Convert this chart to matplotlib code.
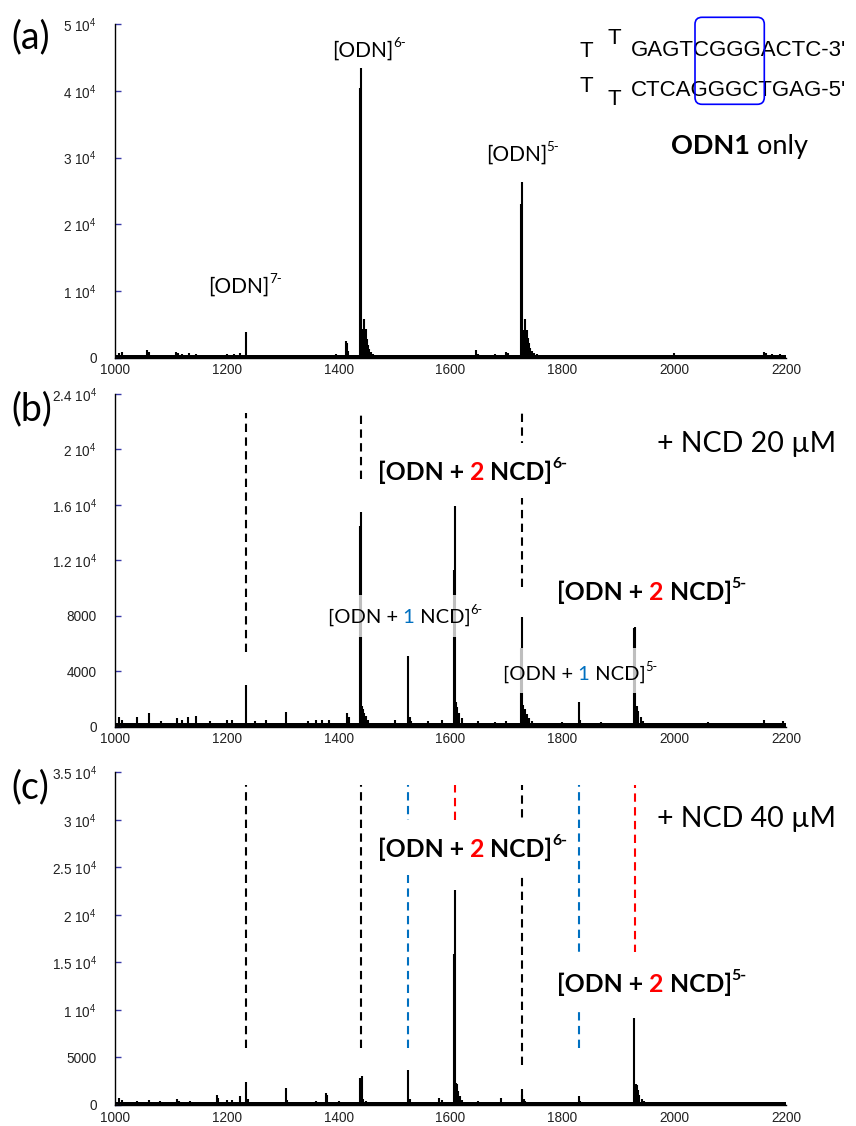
import matplotlib
matplotlib.use('Agg')
import matplotlib.pyplot as plt
from matplotlib.transforms import IdentityTransform
from matplotlib.patches import Rectangle, FancyBboxPatch

W, H, DPI = 856, 1126, 100
plt.rcParams['mathtext.fontset'] = 'custom'
plt.rcParams['mathtext.rm'] = 'Liberation Sans'
plt.rcParams['mathtext.it'] = 'Liberation Sans:italic'
plt.rcParams['mathtext.bf'] = 'Liberation Sans:bold'

LABEL_FONT = ['Lato', 'DejaVu Sans']
TICK_FONT = ['Liberation Sans', 'DejaVu Sans']
SEQ_FONT = ['Liberation Sans', 'DejaVu Sans']
BLUE = '#0070C0'
RED = '#FF0000'

# ------------------------------------------------------------------ data
mz_range = [1000, 2200]
x_ticks = [1000, 1200, 1400, 1600, 1800, 2000, 2200]

# (a) ODN1 only
a_mz = [1008, 1012, 1040, 1058, 1060, 1080, 1109, 1113, 1120, 1132, 1145, 1160,
        1200, 1212, 1224, 1235, 1250, 1270, 1300, 1355, 1370, 1395,
        1413, 1415, 1417, 1438.5, 1440, 1442, 1444, 1446, 1448, 1450, 1452,
        1455, 1458, 1462, 1470, 1520, 1560, 1600, 1645, 1650, 1680, 1700, 1702,
        1726.8, 1728, 1730, 1732, 1734, 1736, 1738, 1740, 1743, 1746, 1750, 1755,
        1800, 1850, 1900, 1950, 2000, 2060, 2100, 2160, 2165, 2175, 2190]
a_int = [700, 800, 400, 1100, 900, 400, 900, 700, 500, 700, 500, 400,
         600, 500, 700, 3850, 450, 400, 350, 450, 400, 500,
         2500, 2200, 1000, 40500, 43400, 3500, 4300, 5800, 4300, 2800, 1900,
         1300, 900, 600, 450, 400, 400, 450, 1100, 600, 500, 900, 700,
         23000, 26400, 3200, 4200, 5800, 4200, 3000, 2200, 1500, 1000, 700, 500,
         450, 400, 400, 400, 650, 400, 400, 900, 700, 600, 500]
a_floor = 450
a_ylim = 50000
a_yticks = [0, 10000, 20000, 30000, 40000, 50000]
a_yticklabels = ['0', '1 10$^4$', '2 10$^4$', '3 10$^4$', '4 10$^4$', '5 10$^4$']

# (b) + NCD 20 uM
b_mz = [1008, 1012, 1040, 1060, 1082, 1110, 1120, 1130, 1145, 1170, 1200, 1210,
        1235, 1250, 1270, 1305, 1345, 1360, 1370, 1383, 1415, 1418,
        1438.5, 1440, 1442, 1444, 1446, 1449, 1453, 1500, 1524, 1527, 1530,
        1560, 1585, 1606.5, 1608, 1610, 1612, 1615, 1620, 1650, 1680, 1700,
        1726.5, 1728, 1730, 1733, 1736, 1740, 1745, 1800, 1829, 1832, 1870,
        1929, 1930.5, 1933, 1936, 1940, 1945, 2000, 2060, 2160, 2195]
b_int = [700, 500, 700, 1000, 400, 600, 500, 700, 800, 400, 500, 450,
         3000, 400, 450, 1050, 400, 500, 500, 450, 1000, 700,
         14500, 15500, 1500, 1300, 1000, 800, 500, 450, 5100, 700, 400,
         400, 500, 11300, 15950, 1800, 1400, 1000, 600, 400, 350, 400,
         5700, 7900, 1600, 1300, 900, 600, 400, 350, 1800, 500, 350,
         7100, 7200, 1500, 1100, 700, 400, 300, 350, 500, 400]
b_floor = 280
b_ylim = 24000
b_yticks = [0, 4000, 8000, 12000, 16000, 20000, 24000]
b_yticklabels = ['0', '4000', '8000', '1.2 10$^4$', '1.6 10$^4$', '2 10$^4$', '2.4 10$^4$']
b_guide_mz = [1235, 1440, 1728]
b_guide_color = ['k', 'k', 'k']
b_guide_top = [22600, 22600, 22600]
b_guide_bottom = [5400, 17850, 10100]

# (c) + NCD 40 uM
c_mz = [1008, 1012, 1040, 1060, 1080, 1110, 1115, 1135, 1160, 1182, 1185, 1200,
        1210, 1224, 1235, 1237, 1270, 1306, 1308, 1340, 1360, 1377, 1379, 1400,
        1439, 1441, 1444, 1448, 1500, 1524, 1527, 1580, 1584,
        1606.8, 1608, 1610, 1612, 1614, 1617, 1620, 1650, 1690,
        1727, 1728.5, 1731, 1734, 1780, 1829, 1831, 1870,
        1929, 1931, 1933, 1935, 1938, 1942, 1946, 1990, 2030, 2100, 2150]
c_int = [700, 500, 400, 500, 400, 600, 400, 400, 350, 1100, 700, 500,
         500, 900, 2450, 600, 350, 1750, 500, 300, 400, 1300, 1000, 400,
         2800, 3050, 600, 400, 350, 3700, 600, 700, 500,
         15900, 22600, 2300, 2200, 1500, 900, 500, 400, 700,
         1000, 1650, 600, 400, 300, 950, 400, 300,
         9180, 2200, 2100, 1600, 1000, 600, 400, 300, 350, 300, 300]
c_floor = 320
c_ylim = 35000
c_yticks = [0, 5000, 10000, 15000, 20000, 25000, 30000, 35000]
c_yticklabels = ['0', '5000', '1 10$^4$', '1.5 10$^4$', '2 10$^4$', '2.5 10$^4$',
                 '3 10$^4$', '3.5 10$^4$']
c_guide_mz = [1235, 1440, 1524, 1608, 1728, 1830, 1930]
c_guide_color = ['k', 'k', BLUE, RED, 'k', BLUE, RED]
c_guide_top = [33660] * 7
c_guide_bottom = [5960, 5960, 5960, 24200, 4200, 5960, 16000]

# ------------------------------------------------------------------ figure
fig = plt.figure(figsize=(W / DPI, H / DPI), dpi=DPI)
renderer = fig.canvas.get_renderer()


def make_axes(top_px, bottom_px, mz, inten, floor, ylim, yticks, ylabels):
    ax = fig.add_axes([115 / W, 1 - bottom_px / H, 671 / W, (bottom_px - top_px) / H])
    ax.fill_between(mz_range, 0, floor, color='black', lw=0)
    ax.vlines(mz, 0, inten, color='black', lw=1.5)
    ax.set_xlim(*mz_range)
    ax.set_ylim(0, ylim)
    ax.set_xticks(x_ticks)
    ax.set_xticklabels([str(v) for v in x_ticks])
    ax.set_yticks(yticks)
    ax.set_yticklabels(ylabels)
    for s in ('top', 'right'):
        ax.spines[s].set_visible(False)
    ax.spines['left'].set_linewidth(1.0)
    ax.spines['bottom'].set_linewidth(1.0)
    ax.tick_params(axis='y', direction='in', length=4.5, width=1.0,
                   color='#3a3aa8', pad=13, labelsize=9.8, labelcolor='#222222')
    ax.tick_params(axis='x', length=0, pad=4.0, labelsize=9.8, labelcolor='#222222')
    for lab in ax.get_xticklabels() + ax.get_yticklabels():
        lab.set_family(TICK_FONT)
    return ax


ax_a = make_axes(24.3, 357.7, a_mz, a_int, a_floor, a_ylim, a_yticks, a_yticklabels)
ax_b = make_axes(394.0, 726.7, b_mz, b_int, b_floor, b_ylim, b_yticks, b_yticklabels)
ax_c = make_axes(772.3, 1105.0, c_mz, c_int, c_floor, c_ylim, c_yticks, c_yticklabels)

for ax, gmz, gcol, gtop, gbot in [(ax_b, b_guide_mz, b_guide_color, b_guide_top, b_guide_bottom),
                                  (ax_c, c_guide_mz, c_guide_color, c_guide_top, c_guide_bottom)]:
    for m, col, t, b in zip(gmz, gcol, gtop, gbot):
        ax.plot([m, m], [b, t], color=col, lw=1.5, linestyle=(0, (4, 2.6)))


# ------------------------------------------------------------------ text helpers
def rich(x, y, parts, size, family=LABEL_FONT, box=None):
    """parts: (text, color, weight, sup). x = left px, y = baseline px from top."""
    cx = x
    x0, x1 = None, None
    for s, color, weight, sup in parts:
        fs = size * 0.64 if sup else size
        dy = size * 1.389 * 0.47 if sup else 0
        if sup:
            cx -= 0.5
        t = fig.text(cx, H - y + dy, s, transform=IdentityTransform(), fontsize=fs,
                     color=color, weight=weight, family=family, va='baseline',
                     ha='left', zorder=6)
        bb = t.get_window_extent(renderer)
        x0 = bb.x0 if x0 is None else min(x0, bb.x0)
        x1 = bb.x1 if x1 is None else max(x1, bb.x1)
        cx = bb.x1
    if box is not None:
        up, down, padl, padr, alpha = box
        r = Rectangle((x0 - padl, H - y - down), (x1 - x0) + padl + padr, up + down,
                      transform=IdentityTransform(), facecolor='white', alpha=alpha,
                      edgecolor='none', zorder=5)
        fig.add_artist(r)


def panel_letter(x, y, s):
    fig.text(x, H - y, s, transform=IdentityTransform(), fontsize=27,
             family=LABEL_FONT, va='center', ha='left')


# panel letters
panel_letter(11, 37, '(a)')
panel_letter(11, 409, '(b)')
panel_letter(11, 787, '(c)')

# (a) labels
rich(332, 57, [('[ODN]', 'k', 'normal', False), ('6-', 'k', 'normal', True)], 15)
rich(486, 161, [('[ODN]', 'k', 'normal', False), ('5-', 'k', 'normal', True)], 15)
rich(208, 293, [('[ODN]', 'k', 'normal', False), ('7-', 'k', 'normal', True)], 15)
rich(671, 154, [('ODN1', 'k', 'bold', False), (' only', 'k', 'normal', False)], 19.5)

# hairpin sequence
for tx, ty in [(580, 57), (607, 44), (580, 92), (608, 105)]:
    fig.text(tx, H - ty, 'T', transform=IdentityTransform(), fontsize=16,
             family=SEQ_FONT, va='baseline', ha='left')
fig.text(631, H - 56, "GAGTCGGGACTC-3'", transform=IdentityTransform(), fontsize=16,
         family=SEQ_FONT, va='baseline', ha='left')
fig.text(631, H - 96, "CTCAGGGCTGAG-5'", transform=IdentityTransform(), fontsize=16,
         family=SEQ_FONT, va='baseline', ha='left')
fig.add_artist(FancyBboxPatch((695, H - 104.3), 69.3, 87, transform=IdentityTransform(),
                              boxstyle='round,pad=0,rounding_size=7', facecolor='none',
                              edgecolor='#0000FF', lw=1.2, zorder=7))

# (b) labels
bold_box = (37, 18, 9, 6, 1.0)
reg_box = (28, 14, 4, 4, 0.75)
rich(378, 480, [('[ODN +', 'k', 'bold', False), (' 2', RED, 'bold', False),
                (' NCD]', 'k', 'bold', False), ('6-', 'k', 'bold', True)], 17.8, box=bold_box)
rich(557, 600, [('[ODN +', 'k', 'bold', False), (' 2', RED, 'bold', False),
                (' NCD]', 'k', 'bold', False), ('5-', 'k', 'bold', True)], 17.8, box=bold_box)
rich(328, 623, [('[ODN +', 'k', 'normal', False), (' 1', BLUE, 'normal', False),
                (' NCD]', 'k', 'normal', False), ('6-', 'k', 'normal', True)], 14.5, box=reg_box)
rich(503, 680, [('[ODN +', 'k', 'normal', False), (' 1', BLUE, 'normal', False),
                (' NCD]', 'k', 'normal', False), ('5-', 'k', 'normal', True)], 14.5,
     box=(32, 13, 4, 4, 0.75))
rich(657, 452, [('+ NCD 20 \u00b5M', 'k', 'normal', False)], 20.5)

# (c) labels
rich(378, 857, [('[ODN +', 'k', 'bold', False), (' 2', RED, 'bold', False),
                (' NCD]', 'k', 'bold', False), ('6-', 'k', 'bold', True)], 17.8, box=bold_box)
rich(557, 992, [('[ODN +', 'k', 'bold', False), (' 2', RED, 'bold', False),
                (' NCD]', 'k', 'bold', False), ('5-', 'k', 'bold', True)], 17.8,
     box=(40, 15, 9, 6, 1.0))
rich(657, 827, [('+ NCD 40 \u00b5M', 'k', 'normal', False)], 20.5)

fig.savefig('out.png', dpi=DPI)
